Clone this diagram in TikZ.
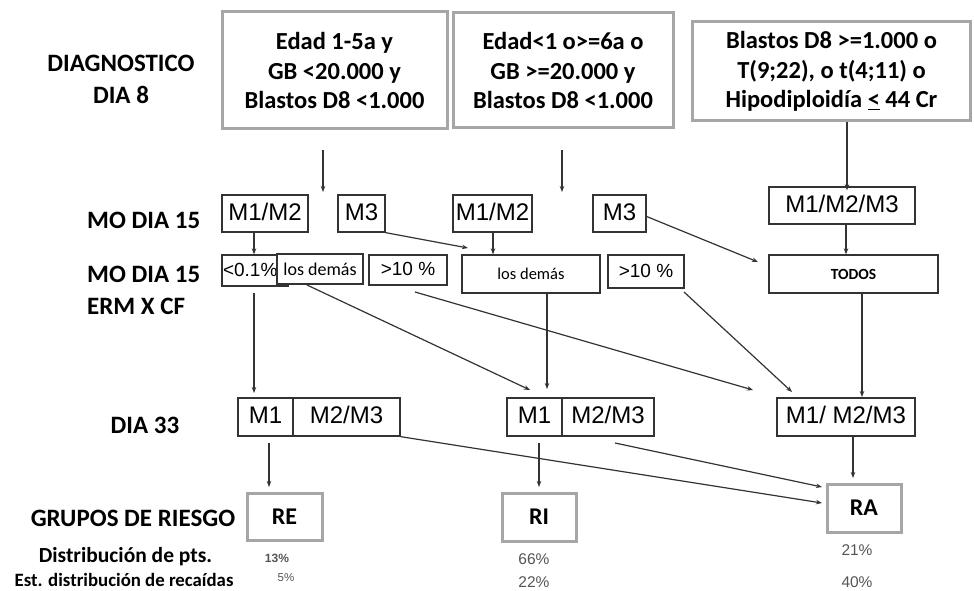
\documentclass[tikz,border=0pt]{standalone}
\usepackage{fontspec}
\setmainfont{Carlito}
\newfontfamily\arialf{Liberation Sans}
\usetikzlibrary{arrows.meta,calc}
\definecolor{boxgray}{HTML}{A6A6A6}
\definecolor{linegray}{HTML}{333333}
\definecolor{pctgray}{HTML}{555555}
\begin{document}
\begin{tikzpicture}[x=1pt,y=-1pt,
  thickbox/.style={draw=boxgray, line width=3pt, inner sep=0pt, align=center},
  thinbox/.style={draw=linegray, line width=1.3pt, inner sep=0pt, fill=white},
  topfont/.style={font=\bfseries\fontsize{24.5}{29.5}\selectfont},
  lbl/.style={inner sep=0pt, font=\bfseries\fontsize{25}{32}\selectfont},
  mfont/.style={font=\arialf\fontsize{24}{26}\selectfont, text height=17pt, text depth=4pt},
  pfont/.style={font=\arialf\fontsize{19}{20}\selectfont, text height=14pt, text depth=3pt},
  pct/.style={inner sep=0pt, text=pctgray},
  arr/.style={draw=linegray, line width=1.2pt, -{Stealth[length=6pt,width=4.5pt]}}
]
\useasboundingbox (0,0) rectangle (974,591);
\fill[white] (0,0) rectangle (974,591);

% left labels
\node[lbl, align=center] (l1) at (121,79) {DIAGNOSTICO\\DIA 8};
\node[lbl, anchor=west] (l2) at (87,220) {MO DIA 15};
\node[lbl, anchor=west, align=left] (l3) at (87,290) {MO DIA 15\\ERM X CF};
\node[lbl] (l4) at (145,425) {DIA 33};
\node[lbl] (l5) at (133,518) {GRUPOS DE RIESGO};
\node[inner sep=0pt, font=\bfseries\fontsize{21.5}{24}\selectfont] (l6) at (125.5,557) {Distribución de pts.};
\node[inner sep=0pt, font=\bfseries\fontsize{18.8}{22}\selectfont] (l7) at (124,580) {Est. distribución de recaídas};

% top boxes
\node[thickbox, topfont, minimum width=225pt, minimum height=117pt] (b1) at (334.5,70.5)
  {Edad 1-5a y\\GB <20.000 y\\Blastos D8 <1.000};
\node[thickbox, topfont, minimum width=220pt, minimum height=115pt] (b2) at (563,70.5)
  {Edad<1 o>=6a o\\GB >=20.000 y\\Blastos D8 <1.000};
\node[thickbox, topfont, minimum width=278pt, minimum height=99pt] (b3) at (831.5,71.5)
  {Blastos D8 >=1.000 o\\T(9;22), o t(4;11) o\\Hipodiploidía \underline{<} 44 Cr};

% MO DIA 15 row
\node[thinbox, mfont, minimum width=86pt, minimum height=37pt] (m12a) at (265,213.5) {M1/M2};
\node[thinbox, mfont, minimum width=47pt, minimum height=37pt] (m3a) at (361.5,213.5) {M3};
\node[thinbox, mfont, minimum width=79pt, minimum height=37pt] (m12b) at (492.5,213.5) {M1/M2};
\node[thinbox, mfont, minimum width=53pt, minimum height=37pt] (m3b) at (619.5,213.5) {M3};
\node[thinbox, mfont, minimum width=146pt, minimum height=37pt] (m123) at (842,205.5) {M1/M2/M3};

% ERM row
\node[thinbox, pfont, minimum width=66pt, minimum height=31pt, text width=66pt, align=left] (lt01) at (255,270.5) {\hspace{1pt}<0.1\%};
\node[thinbox, font=\fontsize{18}{20}\selectfont, minimum width=86pt, minimum height=30pt] (lda1) at (320,269) {los demás};
\node[thinbox, pfont, minimum width=78pt, minimum height=30pt] (gt10a) at (408,270) {>10 \%};
\node[thinbox, font=\fontsize{16.5}{18}\selectfont, minimum width=138pt, minimum height=38pt] (lda2) at (531,274) {los demás};
\node[thinbox, pfont, minimum width=76pt, minimum height=33pt] (gt10b) at (646,271.5) {>10 \%};
\node[thinbox, font=\bfseries\fontsize{15.5}{18}\selectfont, minimum width=169pt, minimum height=38pt] (todos) at (853.5,274) {TODOS};

% DIA 33 row
\node[thinbox, mfont, minimum width=55pt, minimum height=38pt] (r33aL) at (265.5,417) {M1};
\node[thinbox, mfont, minimum width=107pt, minimum height=38pt] (r33aR) at (346.5,417) {M2/M3};
\node[thinbox, mfont, minimum width=55pt, minimum height=38pt] (r33bL) at (534.5,417) {M1};
\node[thinbox, mfont, minimum width=92pt, minimum height=38pt] (r33bR) at (608,417) {M2/M3};
\node[thinbox, mfont, minimum width=138pt, minimum height=38pt] (r33c) at (846,417) {M1/ M2/M3};

% risk groups
\node[thickbox, font=\bfseries\fontsize{24}{26}\selectfont, minimum width=75pt, minimum height=47pt] (re) at (284.5,516.5) {RE};
\node[thickbox, font=\bfseries\fontsize{24}{26}\selectfont, minimum width=74pt, minimum height=48pt] (ri) at (539,517) {RI};
\node[thickbox, font=\bfseries\fontsize{24}{26}\selectfont, minimum width=74pt, minimum height=48pt] (ra) at (864,508) {RA};

% percentages
\node[pct, font=\arialf\bfseries\fontsize{12}{14}\selectfont] (p1) at (277,558) {13\%};
\node[pct, font=\arialf\fontsize{11.5}{14}\selectfont] (p2) at (286,578) {5\%};
\node[pct, font=\arialf\fontsize{15.5}{18}\selectfont] (p3) at (534,559) {66\%};
\node[pct, font=\arialf\fontsize{15.5}{18}\selectfont] (p4) at (534,582) {22\%};
\node[pct, font=\arialf\fontsize{15.5}{18}\selectfont] (p5) at (857,550) {21\%};
\node[pct, font=\arialf\fontsize{15.5}{18}\selectfont] (p6) at (857,582) {40\%};

% free-end coordinates
\coordinate (a1s) at (323,150); \coordinate (a1e) at (323,192);
\coordinate (a2s) at (562,150); \coordinate (a2e) at (562,192);
\coordinate (x847) at (847,0);
\coordinate (x254) at (254,0);
\coordinate (x493) at (493,0);
\coordinate (x846) at (846,0);
\coordinate (e5) at (468,248);
\coordinate (e7) at (758,262);
\coordinate (s9) at (254,293); \coordinate (e9) at (254,393);
\coordinate (s10) at (307,285); \coordinate (e10) at (530,390);
\coordinate (s11) at (415,292); \coordinate (e11) at (753,390);
\coordinate (s12) at (547,293); \coordinate (e12) at (547,389);
\coordinate (s13) at (684,292); \coordinate (e13) at (792,392);
\coordinate (s14) at (862,293); \coordinate (e14) at (862,397);
\coordinate (s15) at (269,443); \coordinate (e15) at (269,487);
\coordinate (s16) at (539,443); \coordinate (e16) at (539,487);
\coordinate (e17) at (822,503);
\coordinate (s18) at (615,443); \coordinate (e18) at (822,487);
\coordinate (x853) at (853,0); \coordinate (e19) at (853,478);

% connectors
\draw[arr] (a1s) -- (a1e);
\draw[arr] (a2s) -- (a2e);
\draw[arr] (b3.south -| x847) -- ([yshift=-4pt]m123.north -| x847);
\draw[arr] (m12a.south -| x254) -- (lt01.north -| x254);
\draw[arr] (m3a.south east) -- (e5);
\draw[arr] (m12b.south -| x493) -- (lda2.north -| x493);
\draw[arr] ([yshift=-3pt]m3b.east) -- (e7);
\draw[arr] (m123.south -| x846) -- (todos.north -| x846);
\draw[arr] (s9) -- (e9);
\draw[arr] (s10) -- (e10);
\draw[arr] (s11) -- (e11);
\draw[arr] (s12) -- (e12);
\draw[arr] (s13) -- (e13);
\draw[arr] (s14) -- (e14);
\draw[arr] (s15) -- (e15);
\draw[arr] (s16) -- (e16);
\draw[arr] (r33aR.south east) -- (e17);
\draw[arr] (s18) -- (e18);
\draw[arr] (r33c.south -| x853) -- (e19);
\end{tikzpicture}
\end{document}
